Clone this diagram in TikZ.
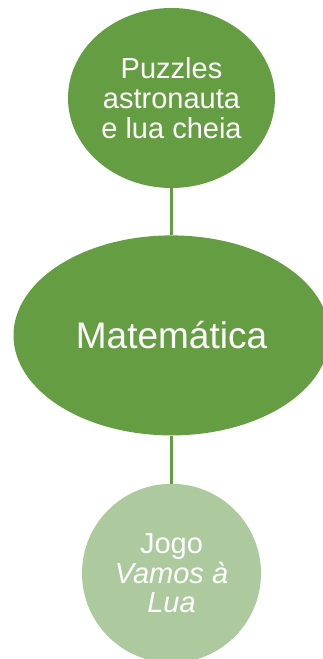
\documentclass[tikz,border=0pt]{standalone}
\usepackage{fontspec}
\setmainfont{Liberation Sans}
\usepackage{tikz}
\usetikzlibrary{positioning,shapes.geometric}
\definecolor{leafdark}{HTML}{659D42}
\definecolor{leaflight}{HTML}{ACCA9E}

\begin{document}
\begin{tikzpicture}[
            x=1pt, y=1pt,
            topic/.style={ellipse, fill=leafdark, text=white, inner sep=0pt,
            align=center},
            game/.style={ellipse, fill=leaflight, text=white, inner sep=0pt,
            align=center},
            link/.style={draw=leafdark, line width=2.2pt}
        ]
% page frame (the middle ellipse runs off the right edge)
            \useasboundingbox (0,0) rectangle (322,-659);

% top circle, centre, bottom circle
            \node[topic, minimum width=207pt, minimum height=180pt,
                font=\fontsize{29}{30}\selectfont] at (171.5,-98) (puz)
                {Puzzles\\astronauta\\e lua cheia};
            \node[topic, minimum width=316pt, minimum height=200pt,
                font=\fontsize{37}{42}\selectfont, below=47pt of puz] (mat)
                {Matemática};
            \node[game, minimum width=179pt, minimum height=179pt,
                font=\fontsize{29}{29.5}\selectfont, below=48pt of mat] (jogo)
                {Jogo\\\textit{Vamos à}\\\textit{Lua}};

            \draw[link] (puz) -- (mat);
            \draw[link] (mat) -- (jogo);
        \end{tikzpicture}
\end{document}
